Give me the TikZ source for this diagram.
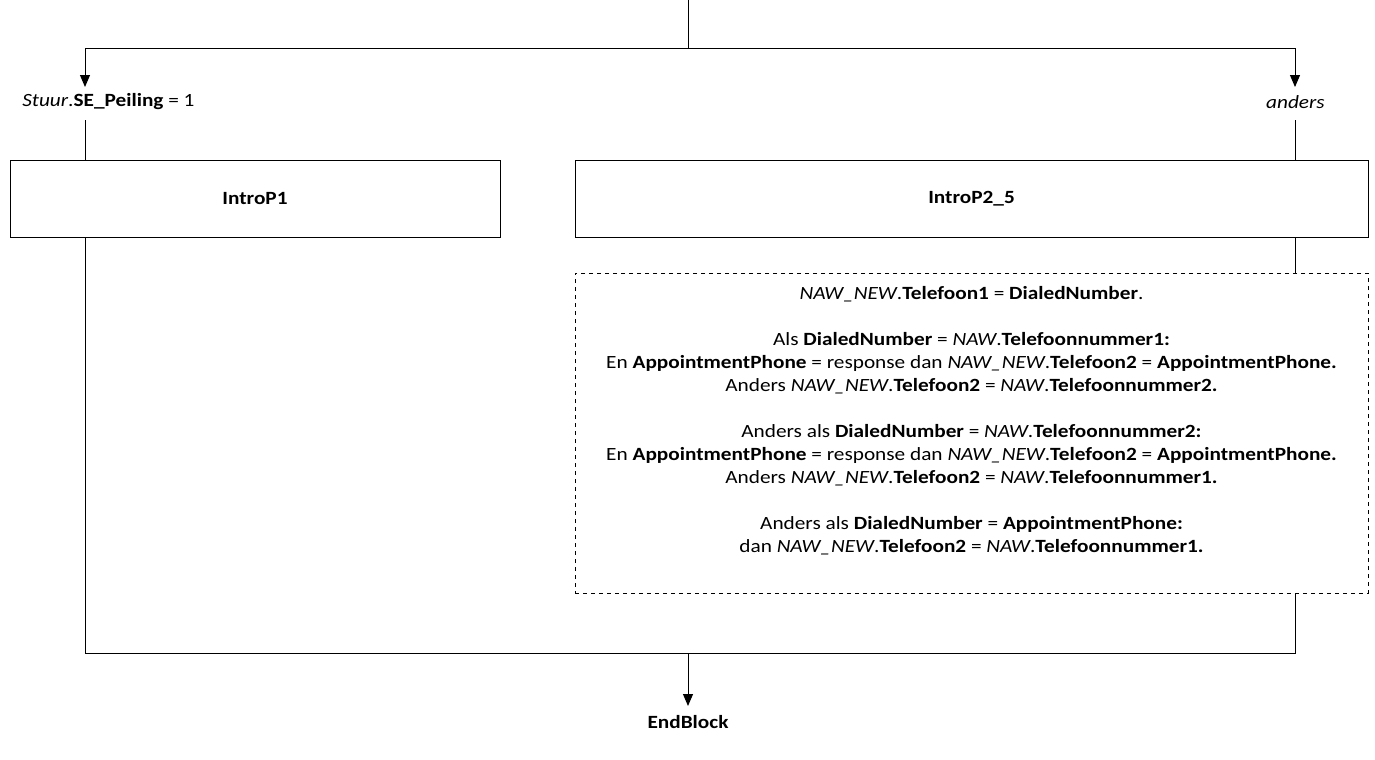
\documentclass[tikz,border=0pt]{standalone}
\usepackage{fontspec}
\setmainfont{Carlito}[FakeStretch=1.14]
\usetikzlibrary{arrows.meta}
\tikzset{
  lijn/.style={line width=0.75pt},
  pijl/.style={lijn,-{Triangle[width=7.5pt,length=9pt]}},
  blok/.style={draw,lijn,minimum width=367.5pt,minimum height=57.75pt,font=\fontsize{14}{17.25}\selectfont\bfseries},
  tekst/.style={inner sep=0pt,font=\fontsize{14}{17.25}\selectfont}
}
\begin{document}
\begin{tikzpicture}[x=0.75pt,y=-0.75pt,tekst]
\useasboundingbox (0,0) rectangle (1375,760);
\path (688,0) coordinate (start)
      (688,48) coordinate (splits)
      (85,48) coordinate (links) (1295,48) coordinate (rechts)
      (85,87) coordinate (pl) (1295,87) coordinate (pr)
      (85,120) coordinate (ol) (1295,120) coordinate (or)
      (85,653) coordinate (sl) (1295,653) coordinate (sr)
      (688,653) coordinate (samen) (688,706) coordinate (eind);
% voorwaarden
\node[anchor=west] (c1) at (22,102) {\textit{Stuur}.\textbf{SE\_Peiling} = 1};
\node[anchor=east] (c2) at (1325,102) {\textit{anders}};
% blokken
\node[blok] (intro1) at (255,198.5) {IntroP1};
\node[blok,minimum width=594.75pt] (intro2) at (971.5,198.5) {IntroP2\_5};
\node[draw,lijn,dashed,minimum width=594.75pt,minimum height=240pt] (reken) at (971.5,433) {};
\node[align=center] (rekentekst) at (971.5,421)
{\textit{NAW\_NEW}.\textbf{Telefoon1} = \textbf{DialedNumber}.\\[17.25pt]
Als \textbf{DialedNumber} = \textit{NAW}.\textbf{Telefoonnummer1:}\\
En \textbf{AppointmentPhone} = response dan \textit{NAW\_NEW}.\textbf{Telefoon2} = \textbf{AppointmentPhone.}\\
Anders \textit{NAW\_NEW}.\textbf{Telefoon2} = \textit{NAW}.\textbf{Telefoonnummer2.}\\[17.25pt]
Anders als \textbf{DialedNumber} = \textit{NAW}.\textbf{Telefoonnummer2:}\\
En \textbf{AppointmentPhone} = response dan \textit{NAW\_NEW}.\textbf{Telefoon2} = \textbf{AppointmentPhone.}\\
Anders \textit{NAW\_NEW}.\textbf{Telefoon2} = \textit{NAW}.\textbf{Telefoonnummer1.}\\[17.25pt]
Anders als \textbf{DialedNumber} = \textbf{AppointmentPhone:}\\
dan \textit{NAW\_NEW}.\textbf{Telefoon2} = \textit{NAW}.\textbf{Telefoonnummer1.}};
\node[font=\fontsize{14}{17.25}\selectfont\bfseries] (einde) at (688,722) {EndBlock};
% verbindingen
\draw[lijn] (start) -- (splits) (links) -- (rechts);
\draw[pijl] (links) -- (pl);
\draw[pijl] (rechts) -- (pr);
\draw[lijn] (ol) -- (ol |- intro1.north);
\draw[lijn] (or) -- (or |- intro2.north);
\draw[lijn] (intro1.south -| sl) -- (sl) -- (sr) -- (reken.south -| sr);
\draw[lijn] (intro2.south -| sr) -- (reken.north -| sr);
\draw[pijl] (samen) -- (eind);
\end{tikzpicture}
\end{document}
